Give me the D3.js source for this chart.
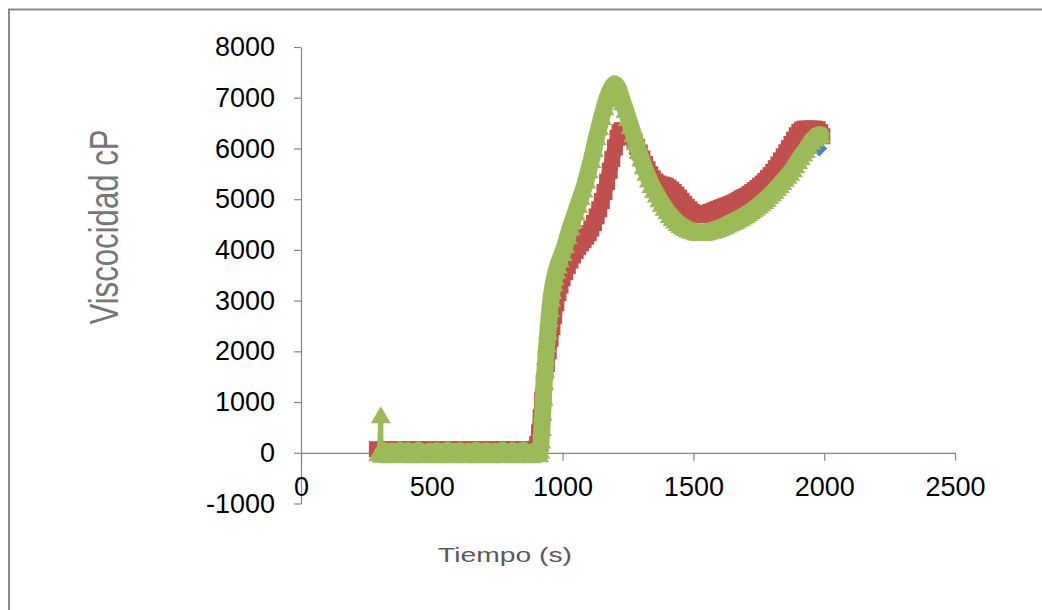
<!DOCTYPE html>
<html><head><meta charset="utf-8">
<script src="https://cdn.jsdelivr.net/npm/d3@7/dist/d3.min.js"></script>
<style>body{margin:0;background:#fff}svg{display:block}</style>
</head><body>
<svg id="c" width="1042" height="610"></svg>
<script>
const xTicks = [0, 500, 1000, 1500, 2000, 2500];
const yTicks = [-1000, 0, 1000, 2000, 3000, 4000, 5000, 6000, 7000, 8000];
const xTitle = "Tiempo (s)";
const yTitle = "Viscocidad cP";

const blueT = [300,400,500,600,700,800,890,925,951,971,992,1020,1060,1100,1140,1170,1200,1226,1255,1285,1315,1345,1385,1425,1465,1505,1545,1605,1665,1725,1785,1845,1895,1935,1965,1981];
const blueV = [50,50,50,50,50,50,60,950,2230,2940,3330,3680,4060,4330,4800,5340,6020,6350,6280,6030,5690,5410,5280,5140,4910,4710,4710,4830,4960,5140,5415,5845,6260,6390,6300,6000];

const redT = [290,300,310,320,330,340,350,360,370,380,390,400,410,420,430,440,450,460,470,480,490,500,510,520,530,540,550,560,570,580,590,600,610,620,630,640,650,660,670,680,690,700,710,720,730,740,750,760,770,780,790,800,810,820,830,840,850,860,870,880,890,
897,903,910,916,922,928,934,940,947,954,961,968,976,984,992,1000,1010,1020,1030,1040,1050,1060,1070,1080,1090,1100,1110,1120,1130,1140,1150,1160,1170,1180,1190,1200,1210,1218,1226,1235,1245,1255,1265,1275,1285,1295,1305,1315,1325,1335,1345,1355,1365,1375,1385,1395,1405,1415,1425,1435,1445,1455,1465,1475,1485,1495,1505,1515,1525,1535,1545,1555,1565,1575,1585,1595,1605,1615,1625,1635,1645,1655,1665,1675,1685,1695,1705,1715,1725,1735,1745,1755,1765,1775,1785,1795,1805,1815,1825,1835,1845,1855,1865,1875,1885,1895,1905,1915,1925,1935,1945,1955,1965,1975,1985,1993];
const redV = [70,50,60,40,70,50,60,40,70,50,60,40,70,50,60,40,70,50,60,40,70,50,60,40,70,50,60,40,70,50,60,40,70,50,60,40,70,50,60,40,70,50,60,40,70,50,60,40,70,50,60,40,70,50,60,40,70,50,60,50,60,
80,180,400,700,1050,1400,1600,1750,2000,2250,2480,2700,2950,3150,3300,3440,3560,3680,3790,3890,3980,4060,4130,4190,4260,4330,4420,4530,4660,4800,4960,5140,5340,5560,5790,6020,6210,6320,6360,6350,6330,6290,6230,6140,6030,5920,5800,5690,5590,5490,5410,5350,5310,5290,5280,5260,5230,5190,5140,5090,5030,4970,4910,4850,4800,4750,4710,4690,4680,4690,4710,4730,4750,4770,4790,4810,4830,4850,4870,4890,4910,4930,4960,4990,5020,5045,5070,5105,5140,5180,5220,5265,5310,5360,5415,5475,5540,5610,5685,5765,5845,5925,6005,6090,6175,6260,6330,6370,6390,6390,6390,6390,6390,6380,6320,6240];

const greenT = [295,300,305,306,310,320,330,340,350,360,370,380,390,400,410,420,430,440,450,460,470,480,490,500,510,520,530,540,550,560,570,580,590,600,610,620,630,640,650,660,670,680,690,700,710,720,730,740,750,760,770,780,790,800,810,820,830,840,850,860,870,880,890,900,910,
915,918,921,924,927,930,933,936,940,944,948,952,956,960,965,970,976,982,990,1000,1010,1020,1030,1040,1050,1060,1070,1080,1090,1100,1110,1120,1130,1140,1150,1160,1170,1180,1190,1198,1205,1212,1220,1230,1240,1250,1260,1270,1280,1290,1300,1310,1320,1330,1340,1350,1360,1370,1380,1390,1400,1410,1420,1430,1440,1450,1460,1470,1480,1490,1500,1510,1520,1530,1540,1550,1560,1570,1580,1590,1600,1610,1620,1630,1640,1650,1660,1670,1680,1690,1700,1710,1720,1730,1740,1750,1760,1770,1780,1790,1800,1810,1820,1830,1840,1850,1860,1870,1880,1890,1900,1910,1920,1930,1940,1950,1960,1970,1980,1988];
const greenV = [0,20,750,0,-30,40,0,-40,30,10,-20,50,-30,0,40,-40,20,-10,50,-30,10,-40,30,0,-20,40,-30,20,-40,50,0,-30,30,-10,40,-40,10,30,-30,0,50,-40,20,-20,40,-30,0,30,-40,10,50,-20,0,-30,40,-40,20,-10,50,-30,10,-40,30,0,-20,
50,250,500,800,1100,1400,1650,1900,2150,2400,2650,2850,3050,3200,3350,3470,3600,3700,3820,3950,4100,4280,4450,4600,4750,4900,5050,5200,5380,5580,5780,6000,6230,6430,6630,6820,6990,7130,7230,7270,7250,7200,7080,6920,6770,6610,6450,6290,6130,5960,5810,5660,5530,5400,5290,5190,5100,5010,4920,4840,4770,4700,4640,4590,4540,4500,4470,4440,4410,4390,4375,4360,4350,4350,4350,4360,4370,4385,4400,4415,4435,4460,4485,4510,4535,4560,4585,4610,4640,4670,4700,4735,4770,4805,4845,4885,4930,4975,5020,5070,5120,5175,5230,5290,5350,5410,5470,5530,5600,5680,5760,5840,5910,5980,6060,6140,6200,6250,6270,6270];

const svg = d3.select("#c");
const x = d3.scaleLinear().domain([0, 2500]).range([301, 955]);
const y = d3.scaleLinear().domain([-1000, 8000]).range([503.5, 47]);

// outer frame
svg.append("path").attr("d", "M9,610V9.5H1042").attr("fill", "none")
  .attr("stroke", "#8a8a8a").attr("stroke-width", 2);

const font = "'Liberation Sans', Arial, sans-serif";

// axes
const yAxis = svg.append("g").attr("transform", `translate(${x(0)},0)`)
  .call(d3.axisLeft(y).tickValues(yTicks).tickFormat(d => String(d)).tickSize(7).tickSizeOuter(0).tickPadding(19));
const xAxis = svg.append("g").attr("transform", `translate(0,${y(0)})`)
  .call(d3.axisBottom(x).tickValues(xTicks).tickFormat(d => String(d)).tickSize(8).tickSizeOuter(0).tickPadding(16));
[xAxis, yAxis].forEach(a => {
  a.selectAll("path,line").attr("stroke", "#868686").attr("stroke-width", 1.2);
  a.selectAll("text").attr("font-family", font).attr("font-size", 27).attr("fill", "#000");
});

const line = d3.line().x(d => x(d[0])).y(d => y(d[1]));

// markers (dense marker trail: connecting stroke beneath the markers fills the gaps)
function drawSeries(T, V, shape, color, trailWidth, trailStart) {
  const pts = d3.zip(T, V);
  if (trailWidth) {
    svg.append("path").datum(pts.slice(trailStart))
      .attr("d", line).attr("fill", "none").attr("stroke", color)
      .attr("stroke-width", trailWidth).attr("stroke-linejoin", "round").attr("stroke-linecap", "round");
  }
  svg.append("g").selectAll("path").data(pts).join("path")
    .attr("transform", d => `translate(${x(d[0])},${y(d[1])})`)
    .attr("d", shape).attr("fill", color);
}
drawSeries(blueT, blueV, "M0,-8L8,0L0,8L-8,0Z", "#4F81BD", 0, 0);
drawSeries(redT, redV, "M-8,-8H8V8H-8Z", "#C0504D", 15, 0);
svg.append("path").datum(d3.zip(greenT, greenV).slice(0, 5))
  .attr("d", line).attr("fill", "none").attr("stroke", "#9BBB59").attr("stroke-width", 5);
drawSeries(greenT, greenV, "M0,-8.5L10,8.5L-10,8.5Z", "#9BBB59", 17, 4);

// titles
svg.append("text").attr("transform", "translate(118,227) rotate(-90) scale(0.76,1)")
  .attr("text-anchor", "middle").attr("font-family", font).attr("font-size", 41)
  .attr("fill", "#767676").text(yTitle);
svg.append("text").attr("transform", "translate(505,562) scale(1.45,1)")
  .attr("text-anchor", "middle").attr("font-family", font).attr("font-size", 19.5)
  .attr("fill", "#5a5a5a").text(xTitle);
</script>
</body></html>
